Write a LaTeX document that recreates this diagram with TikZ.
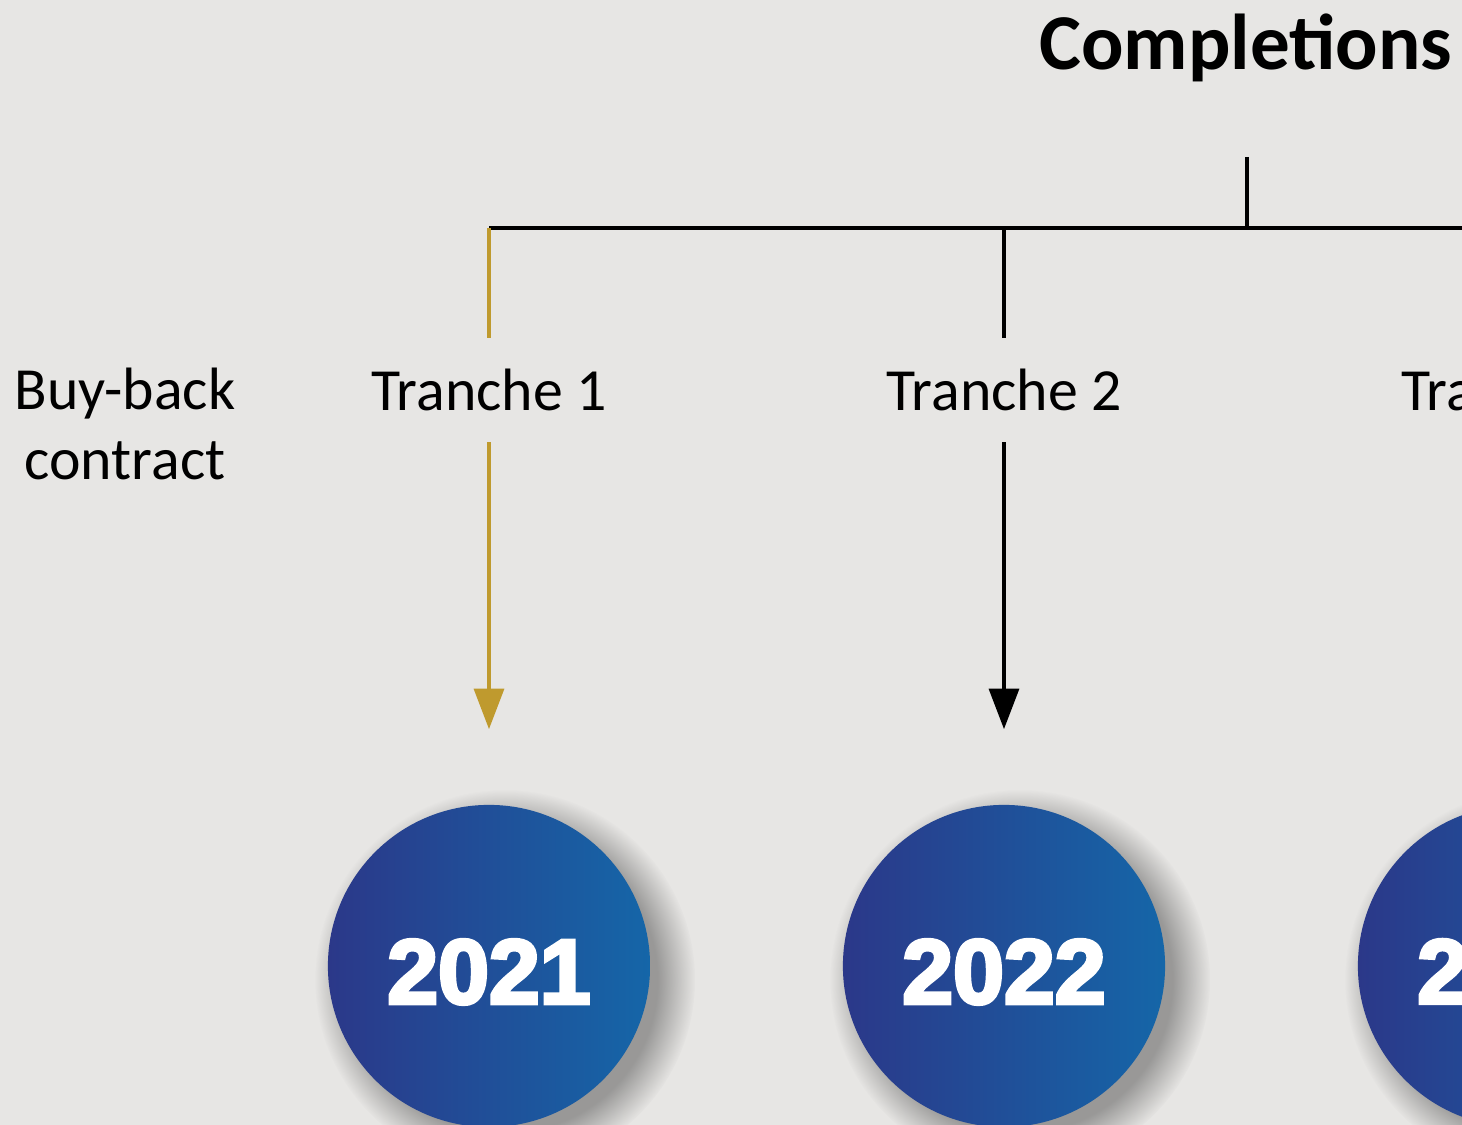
\documentclass[tikz,border=0pt]{standalone}
\usepackage{fontspec}
\setmainfont{Carlito}
\newfontfamily\yearfont[BoldFeatures={FakeBold=4}]{Liberation Sans}
\usetikzlibrary{arrows.meta,fadings}
\definecolor{bg}{HTML}{E7E6E4}
\definecolor{gold}{HTML}{BF9A2E}
\definecolor{blueL}{HTML}{2B3889}
\definecolor{blueR}{HTML}{1566A8}
\begin{document}
\begin{tikzpicture}[x=0.01cm,y=-0.01cm,
  tlabel/.style={font=\fontsize{17}{20}\selectfont, text=black, inner sep=0pt, minimum height=1.03cm},
  conn/.style={line width=1pt, black},
  tip/.style={-{Triangle[width=8.5pt,length=11.5pt]}},
  year/.style={circle, minimum size=3.22cm, inner sep=0pt, left color=blueL, right color=blueR},
  yearlbl/.style={text=white, font=\yearfont\bfseries\fontsize{26}{30}\selectfont, yshift=-0.06cm},
  softshadow/.style={fill=black!70, fill opacity=0.5, path fading=circle with fuzzy edge 20 percent, fit fading=true}
]
\useasboundingbox (0,0) rectangle (1462,1125);
\clip (0,0) rectangle (1462,1125);
\fill[bg] (0,0) rectangle (1462,1125);

% title and hub
\node[font=\bfseries\fontsize{22.5}{26}\selectfont, anchor=base, inner sep=0pt] (title) at (1246,70) {Completions};
\coordinate (hub) at (1247,157);
\coordinate (hubfoot) at (1247,228);
\coordinate (c1) at (489,228);
\coordinate (c2) at (1004,228);
\coordinate (c3) at (1519,228);
\coordinate (barEnd) at (1480,228);

% labels
\node[font=\fontsize{17}{19.9}\selectfont, align=center, inner sep=0pt] (buy) at (125,424) {Buy-back\\contract};
\node[tlabel] (t1) at (489,390) {Tranche 1};
\node[tlabel] (t2) at (1004,390) {Tranche 2};
\node[tlabel] (t3) at (1519,390) {Tranche 3};

% circle centres and shadows
\coordinate (p1) at (489,966);
\coordinate (p2) at (1004,966);
\coordinate (p3) at (1519,966);
\foreach \p in {p1,p2,p3}
  \fill[softshadow] ([shift={(16,14)}]\p) circle (190);

% year circles
\node[year, label={[yearlbl]center:2021}] (y1) at (p1) {};
\node[year, label={[yearlbl]center:2022}] (y2) at (p2) {};
\node[year, label={[yearlbl]center:2023}] (y3) at (p3) {};

% connectors
\draw[conn] (hub) -- (hubfoot);
\draw[conn] (c1) -- (barEnd);
\draw[conn, gold] (c1) -- (t1.north);
\draw[conn] (c2) -- (t2.north);
\draw[conn] (c3) -- (t3.north);
\draw[conn, gold, tip, shorten >=0.75cm] (t1.south) -- (y1.north);
\draw[conn, tip, shorten >=0.75cm] (t2.south) -- (y2.north);
\draw[conn, tip, shorten >=0.75cm] (t3.south) -- (y3.north);
\end{tikzpicture}
\end{document}
